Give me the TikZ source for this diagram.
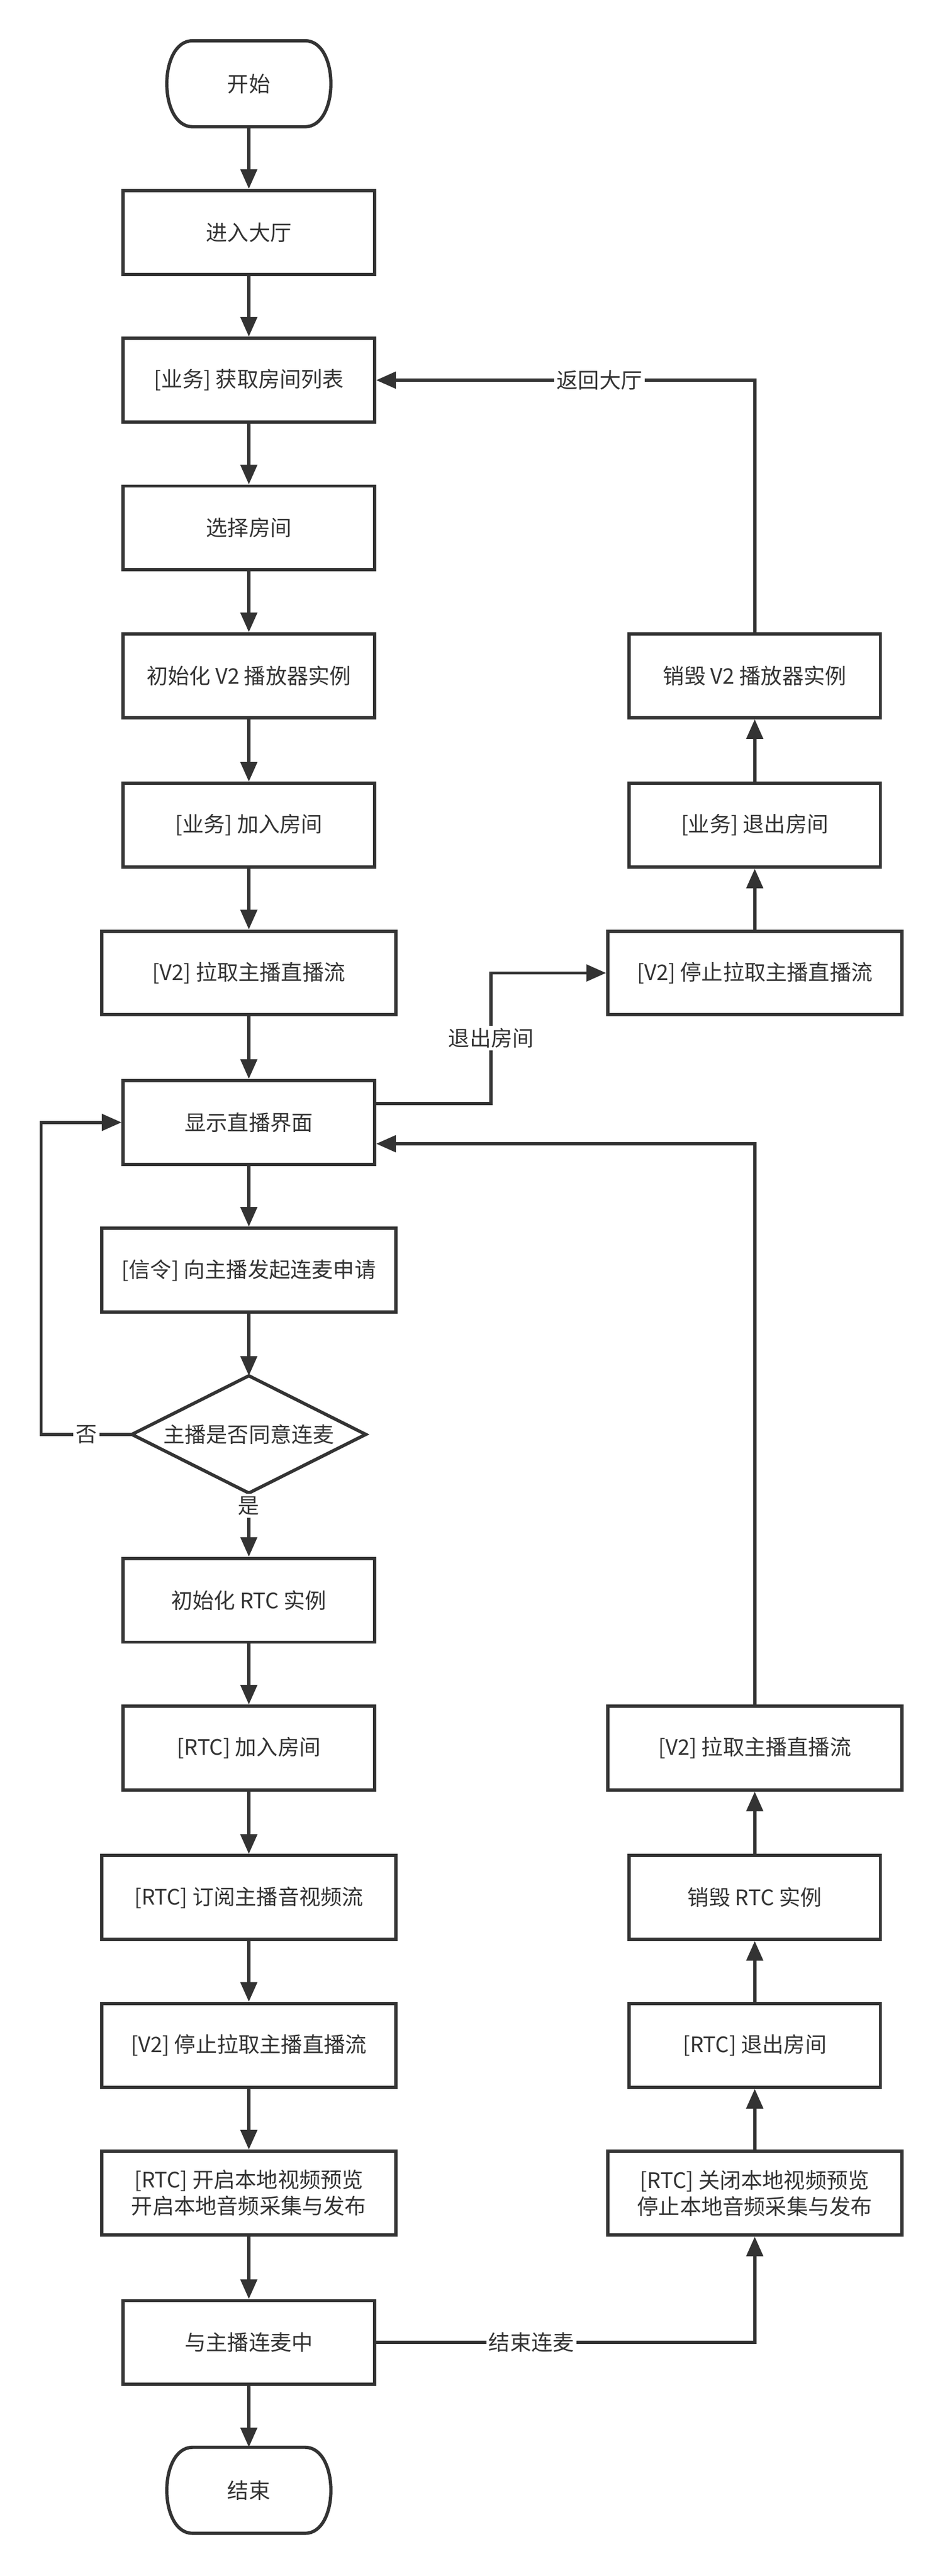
\documentclass[tikz,border=0pt]{standalone}
\usepackage{fontspec}
\setmainfont{Noto Sans CJK SC}
\usetikzlibrary{arrows.meta}
\definecolor{ink}{HTML}{333333}
\newcommand\termshape[1]{\draw[draw=ink,line width=2pt] ([xshift=17pt]#1.north west) -- ([xshift=-17pt]#1.north east) .. controls ([xshift=4pt]#1.north east) and ([xshift=4pt]#1.south east) .. ([xshift=-17pt]#1.south east) -- ([xshift=17pt]#1.south west) .. controls ([xshift=-4pt]#1.south west) and ([xshift=-4pt]#1.north west) .. cycle;}
\newcommand\diashape[1]{\draw[draw=ink,line width=2pt] (#1.north) -- (#1.east) -- (#1.south) -- (#1.west) -- cycle;}
\begin{document}
\begin{tikzpicture}[x=1pt,y=-1pt,
  every node/.style={font=\fontsize{13}{16}\selectfont, text=ink},
  box/.style={draw=ink, line width=2pt, minimum height=51pt, inner sep=0pt, align=center, fill=white},
  nbox/.style={box, minimum width=153pt},
  wbox/.style={box, minimum width=179pt},
  term/.style={minimum width=102pt, minimum height=52pt, inner sep=0pt},
  dia/.style={minimum width=142pt, minimum height=71pt, inner sep=0pt},
  arr/.style={draw=ink, line width=2pt, -{Triangle[length=12pt,width=10pt]}},
  lbl/.style={fill=white, inner sep=1.5pt}]
\useasboundingbox (0,0) rectangle (575,1568.7);

% left column
\node[term] (start) at (151.5,51) {开始};
\termshape{start}
\node[nbox] (hall) at (151.5,141.5) {进入大厅};
\node[nbox] (list) at (151.5,231.5) {[业务] 获取房间列表};
\node[nbox] (select) at (151.5,321.5) {选择房间};
\node[nbox] (initv2) at (151.5,411.5) {初始化 V2 播放器实例};
\node[nbox] (join) at (151.5,502.5) {[业务] 加入房间};
\node[wbox] (pull) at (151.5,592.5) {[V2] 拉取主播直播流};
\node[nbox] (show) at (151.5,683.5) {显示直播界面};
\node[wbox] (signal) at (151.5,773.5) {[信令] 向主播发起连麦申请};
\node[dia] (ask) at (151.5,873.5) {主播是否同意连麦};
\diashape{ask}
\node[nbox] (initrtc) at (151.5,974.5) {初始化 RTC 实例};
\node[nbox] (rtcjoin) at (151.5,1064.5) {[RTC] 加入房间};
\node[wbox] (sub) at (151.5,1155.5) {[RTC] 订阅主播音视频流};
\node[wbox] (stop) at (151.5,1245.5) {[V2] 停止拉取主播直播流};
\node[wbox] (open) at (151.5,1335.5) {[RTC] 开启本地视频预览\\开启本地音频采集与发布};
\node[nbox] (linking) at (151.5,1426.5) {与主播连麦中};
\node[term] (end) at (151.5,1516.5) {结束};
\termshape{end}

% right column
\node[nbox] (destroyv2) at (459.5,411.5) {销毁 V2 播放器实例};
\node[nbox] (leave) at (459.5,502.5) {[业务] 退出房间};
\node[wbox] (stopv2) at (459.5,592.5) {[V2] 停止拉取主播直播流};
\node[wbox] (pullr) at (459.5,1064.5) {[V2] 拉取主播直播流};
\node[nbox] (destroyrtc) at (459.5,1155.5) {销毁 RTC 实例};
\node[nbox] (rtcleave) at (459.5,1245.5) {[RTC] 退出房间};
\node[wbox] (close) at (459.5,1335.5) {[RTC] 关闭本地视频预览\\停止本地音频采集与发布};

% main flow
\draw[arr] (start) -- (hall);
\draw[arr] (hall) -- (list);
\draw[arr] (list) -- (select);
\draw[arr] (select) -- (initv2);
\draw[arr] (initv2) -- (join);
\draw[arr] (join) -- (pull);
\draw[arr] (pull) -- (show);
\draw[arr] (show) -- (signal);
\draw[arr] (signal) -- (ask.north);
\draw[arr] (ask.south) -- (initrtc) node[lbl,pos=0.2] {是};
\draw[arr] (initrtc) -- (rtcjoin);
\draw[arr] (rtcjoin) -- (sub);
\draw[arr] (sub) -- (stop);
\draw[arr] (stop) -- (open);
\draw[arr] (open) -- (linking);
\draw[arr] (linking) -- (end);

% no branch
\coordinate (nocorner) at (25,873.5);
\draw[arr] (ask.west) -- (nocorner) node[lbl,midway] {否} |- (show.west);

% leave room
\coordinate (exitx) at (299,672);
\draw[arr] ([yshift=11.5pt]show.east) -- (exitx) |- (stopv2.west) node[lbl,pos=0.25] {退出房间};
\draw[arr] (stopv2) -- (leave);
\draw[arr] (leave) -- (destroyv2);
\draw[arr] (destroyv2.north) |- (list.east) node[lbl,pos=0.705] {返回大厅};

% end linking
\draw[arr] (linking.east) -| (close.south) node[lbl,pos=0.205] {结束连麦};
\draw[arr] (close) -- (rtcleave);
\draw[arr] (rtcleave) -- (destroyrtc);
\draw[arr] (destroyrtc) -- (pullr);
\draw[arr] (pullr.north) |- ([yshift=-13pt]show.east);
\end{tikzpicture}
\end{document}
